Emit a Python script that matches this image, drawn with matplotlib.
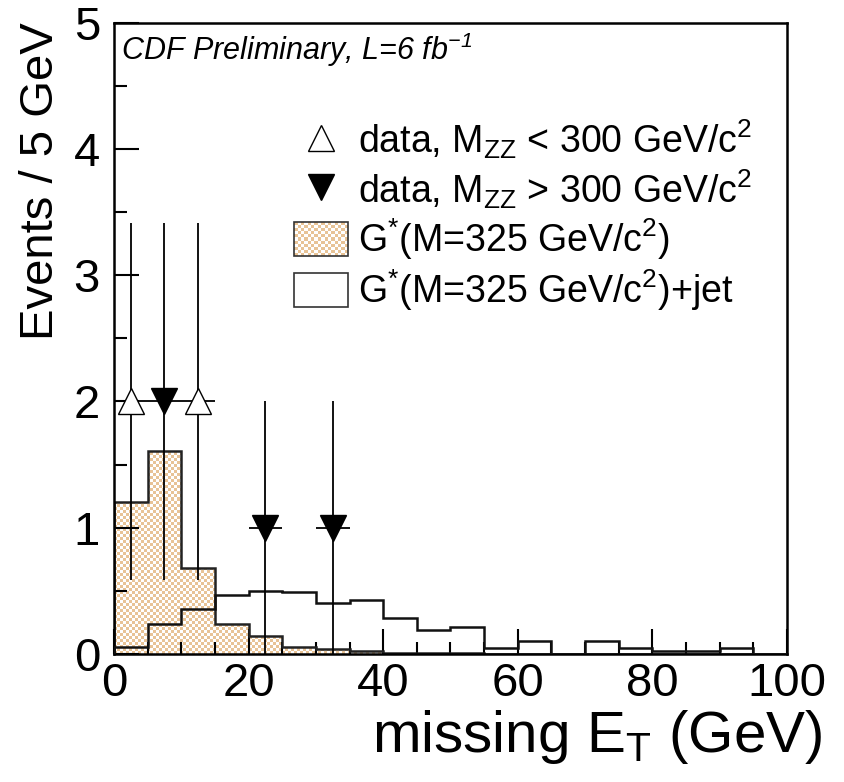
#!/usr/bin/env python3
"""Missing E_T distribution: data points vs G* signal templates."""

import matplotlib

matplotlib.use("Agg")
import matplotlib.pyplot as plt
import numpy as np
from matplotlib.legend_handler import HandlerBase
from matplotlib.lines import Line2D
from matplotlib.patches import Patch, Rectangle
from matplotlib.ticker import MultipleLocator

# 5 GeV bins, 0-100 GeV
bin_edges = [0, 5, 10, 15, 20, 25, 30, 35, 40, 45, 50, 55, 60, 65, 70, 75, 80, 85, 90, 95, 100]
gstar = [1.20, 1.61, 0.68, 0.24, 0.14, 0.058, 0.037, 0.02, 0.01, 0.005,
         0.004, 0.003, 0.002, 0.0, 0.0, 0.0, 0.0, 0.0, 0.0, 0.0]
gstar_jet = [0.058, 0.24, 0.36, 0.47, 0.50, 0.49, 0.40, 0.43, 0.285, 0.193,
             0.21, 0.045, 0.10, 0.0, 0.10, 0.045, 0.022, 0.025, 0.045, 0.0]

# data, M_ZZ < 300
low_x = [2.5, 12.5]
low_y = [2, 2]
low_yerr = [1.414, 1.414]
# data, M_ZZ > 300
high_x = [7.5, 22.5, 32.5]
high_y = [2, 1, 1]
high_yerr = [1.414, 1.0, 1.0]
half_bin = 2.5

TAN = "#E8C396"

plt.rcParams["font.family"] = ["Liberation Sans", "DejaVu Sans"]
plt.rcParams["mathtext.fontset"] = "custom"
plt.rcParams["mathtext.rm"] = "Liberation Sans"
plt.rcParams["mathtext.it"] = "Liberation Sans:italic"
plt.rcParams["mathtext.default"] = "regular"


class HandlerChecker(HandlerBase):
    """Legend box filled with a fine tan/white checkerboard."""

    def create_artists(self, legend, orig_handle, xdescent, ydescent, width, height, fontsize, trans):
        x0, y0 = -xdescent, -ydescent
        nx, ny = 16, 11
        cw, ch = width / nx, height / ny
        artists = [Rectangle((x0, y0), width, height, facecolor="white", edgecolor="none", transform=trans)]
        for i in range(nx):
            for j in range(ny):
                if (i + j) % 2 == 0:
                    artists.append(Rectangle((x0 + i * cw, y0 + j * ch), cw, ch,
                                             facecolor=TAN, edgecolor="none", transform=trans))
        artists.append(Rectangle((x0, y0), width, height, facecolor="none",
                                 edgecolor="#333333", lw=1.2, transform=trans))
        return artists


fig = plt.figure(figsize=(8.44, 7.82), dpi=100)
ax = fig.add_axes([0.135, 0.1637, 0.7975, 0.8073])

# G* template: checkerboard fill clipped to the histogram shape
g_patch = ax.stairs(gstar, bin_edges, fill=True, facecolor="none", edgecolor="#222222", lw=1.8, zorder=2)
nx, ny = 225, 210
checker = (np.add.outer(np.arange(ny), np.arange(nx)) % 2).astype(float)
im = ax.imshow(checker, extent=(0, 100, 0, 5), aspect="auto", interpolation="nearest",
               cmap=matplotlib.colors.ListedColormap(["white", TAN]), zorder=1)
im.set_clip_path(g_patch)

ax.stairs(gstar_jet, bin_edges, fill=False, edgecolor="#111111", lw=1.8, zorder=3)

ax.errorbar(low_x, low_y, yerr=low_yerr, xerr=half_bin, fmt="^", ms=19, mfc="white", mec="black",
            mew=1.0, ecolor="black", elinewidth=1.3, capsize=0, zorder=5)
ax.errorbar(high_x, high_y, yerr=high_yerr, xerr=half_bin, fmt="v", ms=19, mfc="black", mec="black",
            ecolor="black", elinewidth=1.3, capsize=0, zorder=5)

ax.set_xlim(0, 100)
ax.set_ylim(0, 5)
ax.xaxis.set_major_locator(MultipleLocator(20))
ax.xaxis.set_minor_locator(MultipleLocator(5))
ax.yaxis.set_major_locator(MultipleLocator(1))
ax.yaxis.set_minor_locator(MultipleLocator(0.5))
ax.tick_params(which="both", direction="in", top=False, right=False, width=1.5, labelsize=34)
ax.tick_params(which="major", length=18)
ax.tick_params(which="minor", length=9)
ax.tick_params(axis="y", pad=10)
ax.tick_params(axis="x", pad=6)
for s in ax.spines.values():
    s.set_linewidth(1.8)

ax.set_xlabel(r"missing E$_{T}$ (GeV)", fontsize=42, ha="right")
ax.xaxis.set_label_coords(1.052, -0.085)
ax.set_ylabel("Events / 5 GeV", fontsize=34, loc="top", labelpad=8)

ax.text(0.01, 0.987, r"CDF Preliminary, L=6 fb$^{-1}$", transform=ax.transAxes, ha="left", va="top",
        fontsize=22, style="italic")

handles = [
    Line2D([], [], marker="^", ls="none", ms=19, mfc="white", mec="black", mew=1.0),
    Line2D([], [], marker="v", ls="none", ms=19, mfc="black", mec="black"),
    Patch(label="gstar"),
    Patch(facecolor="white", edgecolor="#333333", lw=1.2),
]
labels = [
    r"data, M$_{ZZ}$ < 300 GeV/c$^{2}$",
    r"data, M$_{ZZ}$ > 300 GeV/c$^{2}$",
    r"G$^{*}$(M=325 GeV/c$^{2}$)",
    r"G$^{*}$(M=325 GeV/c$^{2}$)+jet",
]
ax.legend(handles, labels, loc="upper left", bbox_to_anchor=(0.24, 0.88), frameon=False, fontsize=27,
          handlelength=1.44, handleheight=1.0, handletextpad=0.27, labelspacing=0.15, borderpad=0,
          handler_map={handles[2]: HandlerChecker()})

fig.savefig("out.png", dpi=100)
